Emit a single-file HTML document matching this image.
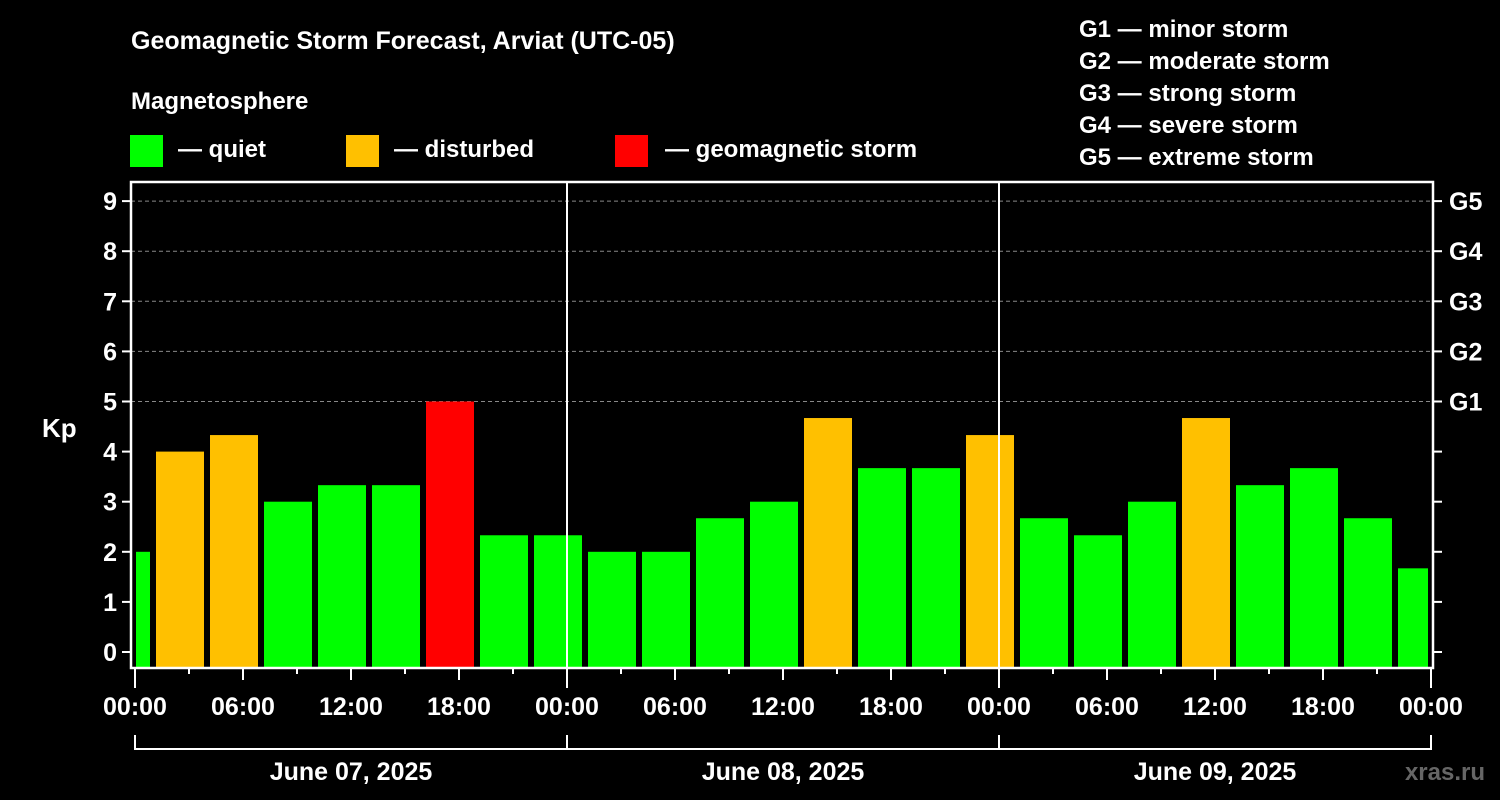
<!DOCTYPE html>
<html><head><meta charset="utf-8"><style>
html,body{margin:0;padding:0;background:#000;}
svg{display:block;font-family:"Liberation Sans",Arial,sans-serif;font-weight:bold;}
</style></head><body>
<svg id="chart" width="1500" height="800" viewBox="0 0 1500 800">
<rect width="1500" height="800" fill="#000"/>
<text x="131" y="49" fill="#fff" font-size="25">Geomagnetic Storm Forecast, Arviat (UTC-05)</text>
<text x="131" y="109" fill="#fff" font-size="24">Magnetosphere</text>
<g><rect x="130" y="135" width="33" height="32" fill="#00ff00"/><text x="178" y="157" fill="#fff" font-size="24">— quiet</text></g>
<g><rect x="346" y="135" width="33" height="32" fill="#ffc000"/><text x="394" y="157" fill="#fff" font-size="24">— disturbed</text></g>
<g><rect x="615" y="135" width="33" height="32" fill="#ff0000"/><text x="665" y="157" fill="#fff" font-size="24">— geomagnetic storm</text></g>
<g fill="#fff" font-size="24">
<text x="1079" y="37">G1 — minor storm</text>
<text x="1079" y="69">G2 — moderate storm</text>
<text x="1079" y="101">G3 — strong storm</text>
<text x="1079" y="133">G4 — severe storm</text>
<text x="1079" y="165">G5 — extreme storm</text>
</g>
<text x="42" y="437" fill="#fff" font-size="26">Kp</text>
<text x="1485" y="780" fill="#666" font-size="24" text-anchor="end">xras.ru</text>
<g id="grid"></g><g id="bars"></g><g id="axes"></g>
</svg>
<script>
const kpValues = [2, 4, 4.33, 3, 3.33, 3.33, 5, 2.33, 2.33, 2, 2, 2.67, 3, 4.67, 3.67, 3.67, 4.33, 2.67, 2.33, 3, 4.67, 3.33, 3.67, 2.67, 1.67];
const firstBarStartHour = -2;
const hourTicks = ["00:00","06:00","12:00","18:00","00:00","06:00","12:00","18:00","00:00","06:00","12:00","18:00","00:00"];
const dayLabels = ["June 07, 2025","June 08, 2025","June 09, 2025"];
const kpTicks = [0,1,2,3,4,5,6,7,8,9];
const gLabels = ["G1","G2","G3","G4","G5"];

const NS="http://www.w3.org/2000/svg";
const X0=135, PXH=18, TOTALH=72, L=131, R=1433, T=182, B=668;
const xs=h=>X0+h*PXH;
const ys=k=>652-50.1*k;
function el(tag,attrs,parent){const e=document.createElementNS(NS,tag);for(const k in attrs)e.setAttribute(k,attrs[k]);parent.appendChild(e);return e;}
const grid=document.getElementById('grid'),bars=document.getElementById('bars'),axes=document.getElementById('axes');

kpTicks.forEach(k=>{
  if(k>=5){const g=el('line',{x1:L,x2:R,y1:ys(k),y2:ys(k),stroke:'#888','stroke-dasharray':'4,3','stroke-width':1},grid);
  
  }
  const t=el('line',{x1:L-9,x2:L,y1:ys(k),y2:ys(k),stroke:'#fff','stroke-width':2},axes);
  
  
  const t2=el('line',{x1:R,x2:R+9,y1:ys(k),y2:ys(k),stroke:'#fff','stroke-width':2},axes);
  
  
  const lb=el('text',{x:L-14,y:ys(k)+9,fill:'#fff','font-size':25,'text-anchor':'end'},axes);
  lb.textContent=k;
  
  
});
gLabels.forEach((g,i)=>{
  const lb=el('text',{x:R+16,y:ys(5+i)+9,fill:'#fff','font-size':25},axes);
  lb.textContent=g;
  
  
});
kpValues.forEach((v,i)=>{
  const h0=firstBarStartHour+3*i, h1=h0+3;
  const a=Math.max(xs(h0),xs(0)-2)+3, b=Math.min(xs(h1),xs(TOTALH))-3;
  const col=v>=5?'#ff0000':(v>=4?'#ffc000':'#00ff00');
  const r=el('rect',{x:a,y:ys(v),width:b-a,height:B-ys(v),fill:col},bars);
  
  
});
[1,2].forEach(d=>{const l=el('line',{x1:xs(24*d),x2:xs(24*d),y1:T,y2:B,stroke:'#fff','stroke-width':2},axes);

});
const fr=el('path',{d:`M${L} ${T}H${R}V${B}H${L}Z`,fill:'none',stroke:'#fff','stroke-width':2.5},axes);


for(let h=0;h<=TOTALH;h+=3){
  const len=h%6===0?(h%24===0?20:12):6;
  const t=el('line',{x1:xs(h),x2:xs(h),y1:B,y2:B+len,stroke:'#fff','stroke-width':2},axes);
  
  
}
hourTicks.forEach((s,i)=>{
  const lb=el('text',{x:xs(6*i),y:715,fill:'#fff','font-size':25,'text-anchor':'middle'},axes);
  lb.textContent=s;
  
  
});
const br=el('path',{d:`M${xs(0)} 735V749H${xs(72)}V735`+[1,2].map(d=>`M${xs(24*d)} 735V749`).join(''),fill:'none',stroke:'#fff','stroke-width':2},axes);


dayLabels.forEach((s,i)=>{
  const lb=el('text',{x:xs(24*i+12),y:780,fill:'#fff','font-size':25,'text-anchor':'middle'},axes);
  lb.textContent=s;
  
  
});
</script>
</body></html>
